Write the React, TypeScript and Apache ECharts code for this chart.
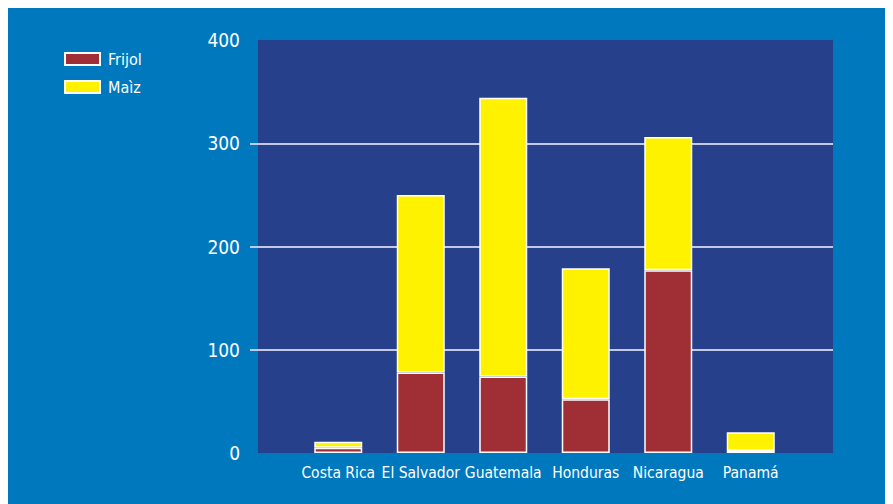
import React, { useEffect, useRef } from "react";
import * as echarts from "echarts";

const categories = ["Costa Rica", "El Salvador", "Guatemala", "Honduras", "Nicaragua", "Panamá"];
const frijol = [5, 78, 74, 52, 177, 2];
const maiz = [6, 172, 270, 127, 129, 18];
const yTicks = [0, 100, 200, 300, 400];

const FONT = "'Liberation Sans Narrow', 'DejaVu Sans Condensed', Roboto, sans-serif";

export default function App() {
  const ref = useRef<HTMLDivElement>(null);
  useEffect(() => {
    if (!ref.current) return;
    const chart = echarts.init(ref.current, null, { renderer: "svg" });
    chart.setOption({
      animation: false,
      backgroundColor: "#0078be",
      graphic: [
        {
          type: "rect",
          z: -10,
          left: 250,
          top: 32,
          shape: { width: 575, height: 413 },
          style: { fill: "#27408c" },
        },
      ],
      legend: {
        orient: "vertical",
        left: 51,
        top: 38,
        icon: "rect",
        itemWidth: 35,
        itemHeight: 12,
        itemGap: 12,
        textStyle: { color: "#ffffff", fontSize: 16, fontFamily: FONT, padding: [0, 0, 0, 3] },
        data: ["Frijol", "Maìz"],
      },
      grid: [
        { left: 242, right: 60, top: 32, bottom: 51 },
        { left: 289, width: 495, top: 32, bottom: 51 },
      ],
      xAxis: [
        { type: "value", gridIndex: 0, show: false, min: 0, max: 1 },
        {
          type: "category",
          gridIndex: 1,
          data: categories,
          axisLine: { show: false },
          axisTick: { show: false },
          axisLabel: { color: "#ffffff", fontSize: 15.5, fontFamily: FONT, margin: 12, interval: 0 },
        },
      ],
      yAxis: [
        {
          type: "value",
          gridIndex: 0,
          min: yTicks[0],
          max: yTicks[yTicks.length - 1],
          interval: 100,
          axisLine: { show: false },
          axisTick: { show: false },
          axisLabel: { color: "#ffffff", fontSize: 19, fontFamily: FONT, margin: 10 },
          splitLine: { show: true, showMinLine: false, showMaxLine: false, lineStyle: { color: "#c4c8e4", width: 2 } },
        },
        {
          type: "value",
          gridIndex: 1,
          min: yTicks[0],
          max: yTicks[yTicks.length - 1],
          interval: 100,
          show: false,
          splitLine: { show: false },
        },
      ],
      series: [
        {
          name: "Frijol",
          type: "bar",
          stack: "t",
          xAxisIndex: 1,
          yAxisIndex: 1,
          barWidth: 48,
          data: frijol,
          itemStyle: { color: "#a02f35", borderColor: "#ffffff", borderWidth: 1.5 },
        },
        {
          name: "Maìz",
          type: "bar",
          stack: "t",
          xAxisIndex: 1,
          yAxisIndex: 1,
          barWidth: 48,
          data: maiz,
          itemStyle: { color: "#fff200", borderColor: "#ffffff", borderWidth: 1.5 },
        },
      ],
    });
    return () => chart.dispose();
  }, []);
  return <div ref={ref} style={{ width: 885, height: 496 }} />;
}
